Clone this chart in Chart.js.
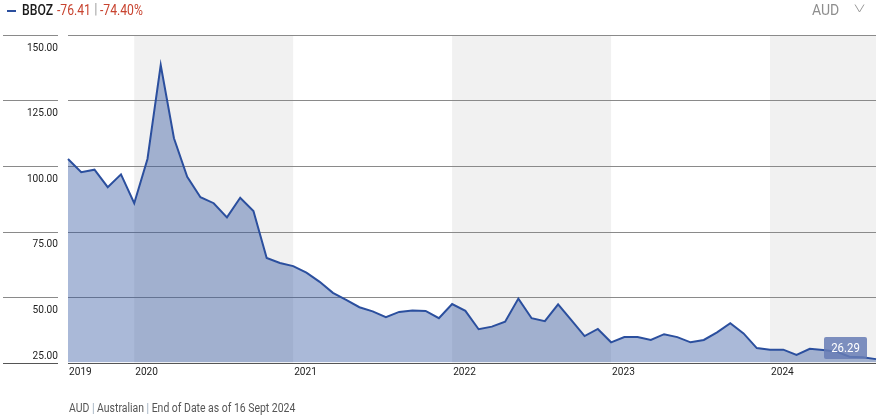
<!DOCTYPE html>
<html>
<head>
<meta charset="utf-8">
<script src="https://cdn.jsdelivr.net/npm/chart.js@4"></script>
<style>
  body { margin: 0; background: #fff; }
  #wrap { position: relative; width: 879px; height: 416px; overflow: hidden; font-family: Roboto, sans-serif; }
  #myChart { position: absolute; left: 0; top: 0; }
  .txt { position: absolute; white-space: nowrap; line-height: 1; transform-origin: 0 0; }
  .cond { transform: scaleX(0.87); }
</style>
</head>
<body>
<div id="wrap">
  <canvas id="myChart" width="879" height="416"></canvas>
  <div style="position:absolute;left:7px;top:10px;width:9px;height:2px;background:#2b4f9e"></div>
  <span class="txt cond" style="left:22px;top:3px;font-size:14px;font-weight:500;color:#1a1a1a">BBOZ</span>
  <span class="txt cond" style="left:57px;top:3px;font-size:14px;color:#c8432f">-76.41</span>
  <span class="txt" style="left:94px;top:2px;font-size:15px;color:#aaa">|</span>
  <span class="txt cond" style="left:100px;top:3px;font-size:14px;color:#c8432f">-74.40%</span>
  <span class="txt" style="left:812px;top:3px;font-size:14px;color:#8e8e8e">AUD</span>
  <svg style="position:absolute;left:850px;top:0" width="20" height="16"><polyline points="5,4.5 9.5,12 14,4.5" fill="none" stroke="#999" stroke-width="1"/></svg>
  <span class="txt" style="left:69px;top:402px;font-size:12px;color:#555;transform:scaleX(0.87)">AUD <span style="color:#9ab">|</span> Australian <span style="color:#9ab">|</span> End of Date as of 16 Sept 2024</span>
</div>
<script>
const ctx = document.querySelector("#myChart");

// month ends, Jul 2019 .. Aug 2024
const months = [
  "Jul 19", "Aug 19", "Sep 19", "Oct 19", "Nov 19", "Dec 19",
  "Jan 20", "Feb 20", "Mar 20", "Apr 20", "May 20", "Jun 20", "Jul 20", "Aug 20", "Sep 20", "Oct 20", "Nov 20", "Dec 20",
  "Jan 21", "Feb 21", "Mar 21", "Apr 21", "May 21", "Jun 21", "Jul 21", "Aug 21", "Sep 21", "Oct 21", "Nov 21", "Dec 21",
  "Jan 22", "Feb 22", "Mar 22", "Apr 22", "May 22", "Jun 22", "Jul 22", "Aug 22", "Sep 22", "Oct 22", "Nov 22", "Dec 22",
  "Jan 23", "Feb 23", "Mar 23", "Apr 23", "May 23", "Jun 23", "Jul 23", "Aug 23", "Sep 23", "Oct 23", "Nov 23", "Dec 23",
  "Jan 24", "Feb 24", "Mar 24", "Apr 24", "May 24", "Jun 24", "Jul 24", "Aug 24"
];

const bbozValues = [
  102.7, 97.6, 98.6, 91.9, 96.8, 85.8,
  102.7, 138.5, 110.6, 95.9, 88.1, 85.8, 80.4, 87.9, 82.8, 64.9, 63.0, 61.8,
  59.3, 55.8, 51.6, 48.9, 46.1, 44.5, 42.3, 44.3, 44.8, 44.7, 41.9, 47.3,
  44.7, 37.7, 38.7, 40.6, 49.4, 41.9, 40.8, 47.2, 41.2, 35.1, 37.8, 32.7,
  34.7, 34.7, 33.6, 35.8, 34.7, 32.7, 33.6, 36.5, 40.0, 36.1, 30.5, 29.9,
  29.9, 27.9, 30.2, 29.8, 29.2, 27.2, 27.0, 26.29
];

const yearLabels = ["2019", "2020", "2021", "2022", "2023", "2024"];
const yearStartIdx = [0, 5, 17, 29, 41, 53];
const shadedYears = ["2020", "2022", "2024"];
const yTicks = [25, 50, 75, 100, 125, 150];

const lineColor = "#2b4f9e";

function condText(c, text, x, y, align) {
  c.save();
  c.translate(x, y);
  c.scale(0.88, 1);
  c.textAlign = align;
  c.fillText(text, 0, 0);
  c.restore();
}

const decorPlugin = {
  id: "decor",
  beforeDatasetsDraw(chart) {
    const c = chart.ctx;
    const area = chart.chartArea;
    const xs = chart.scales.x;
    const ys = chart.scales.y;
    c.save();
    // year bands
    c.fillStyle = "#f1f1f1";
    yearLabels.forEach((yr, i) => {
      if (!shadedYears.includes(yr)) return;
      const x0 = xs.getPixelForValue(yearStartIdx[i]);
      const x1 = i + 1 < yearStartIdx.length ? xs.getPixelForValue(yearStartIdx[i + 1]) : area.right;
      c.fillRect(x0, area.top, x1 - x0, area.bottom - area.top);
    });
    // grid lines
    c.lineWidth = 1;
    yTicks.forEach((v) => {
      const y = Math.round(ys.getPixelForValue(v)) + 0.5;
      c.strokeStyle = v === yTicks[0] ? "#555" : "#8a8a8a";
      c.beginPath();
      c.moveTo(3, y);
      c.lineTo(58, y);
      c.moveTo(area.left, y);
      c.lineTo(area.right, y);
      c.stroke();
    });
    c.restore();
  },
  afterDraw(chart) {
    const c = chart.ctx;
    const area = chart.chartArea;
    const xs = chart.scales.x;
    const ys = chart.scales.y;
    c.save();
    c.font = "11.5px Roboto";
    c.fillStyle = "#222";
    yTicks.forEach((v) => {
      const y = ys.getPixelForValue(v);
      const by = v === yTicks[0] ? y - 4 : y + 15.5;
      condText(c, v.toFixed(2), 58, by, "right");
    });
    yearLabels.forEach((yr, i) => {
      condText(c, yr, xs.getPixelForValue(yearStartIdx[i]) + 1, area.bottom + 12, "left");
    });
    // last value tag
    const last = bbozValues.length - 1;
    const px = xs.getPixelForValue(last);
    const py = ys.getPixelForValue(bbozValues[last]);
    const w = 43, h = 22;
    c.fillStyle = "rgba(103, 125, 181, 0.85)";
    c.beginPath();
    c.roundRect(px - 9 - w, py - h, w, h, 2);
    c.fill();
    c.fillStyle = "#fff";
    c.font = "13px Roboto";
    condText(c, bbozValues[last].toFixed(2), px - 9 - w / 2, py - 7, "center");
    c.restore();
  }
};

new Chart(ctx, {
  type: "line",
  data: {
    labels: months,
    datasets: [
      {
        label: "BBOZ",
        data: bbozValues,
        borderColor: lineColor,
        borderWidth: 2,
        backgroundColor: "rgba(43, 79, 158, 0.4)",
        fill: "start",
        pointRadius: 0,
        tension: 0,
      },
    ],
  },
  options: {
    responsive: false,
    devicePixelRatio: 1,
    animation: false,
    layout: { padding: { left: 68, right: 3, top: 35, bottom: 53.5 } },
    plugins: { legend: { display: false }, tooltip: { enabled: false } },
    scales: {
      x: { display: false },
      y: { display: false, min: 25, max: 150 },
    },
  },
  plugins: [decorPlugin],
});
</script>
</body>
</html>
